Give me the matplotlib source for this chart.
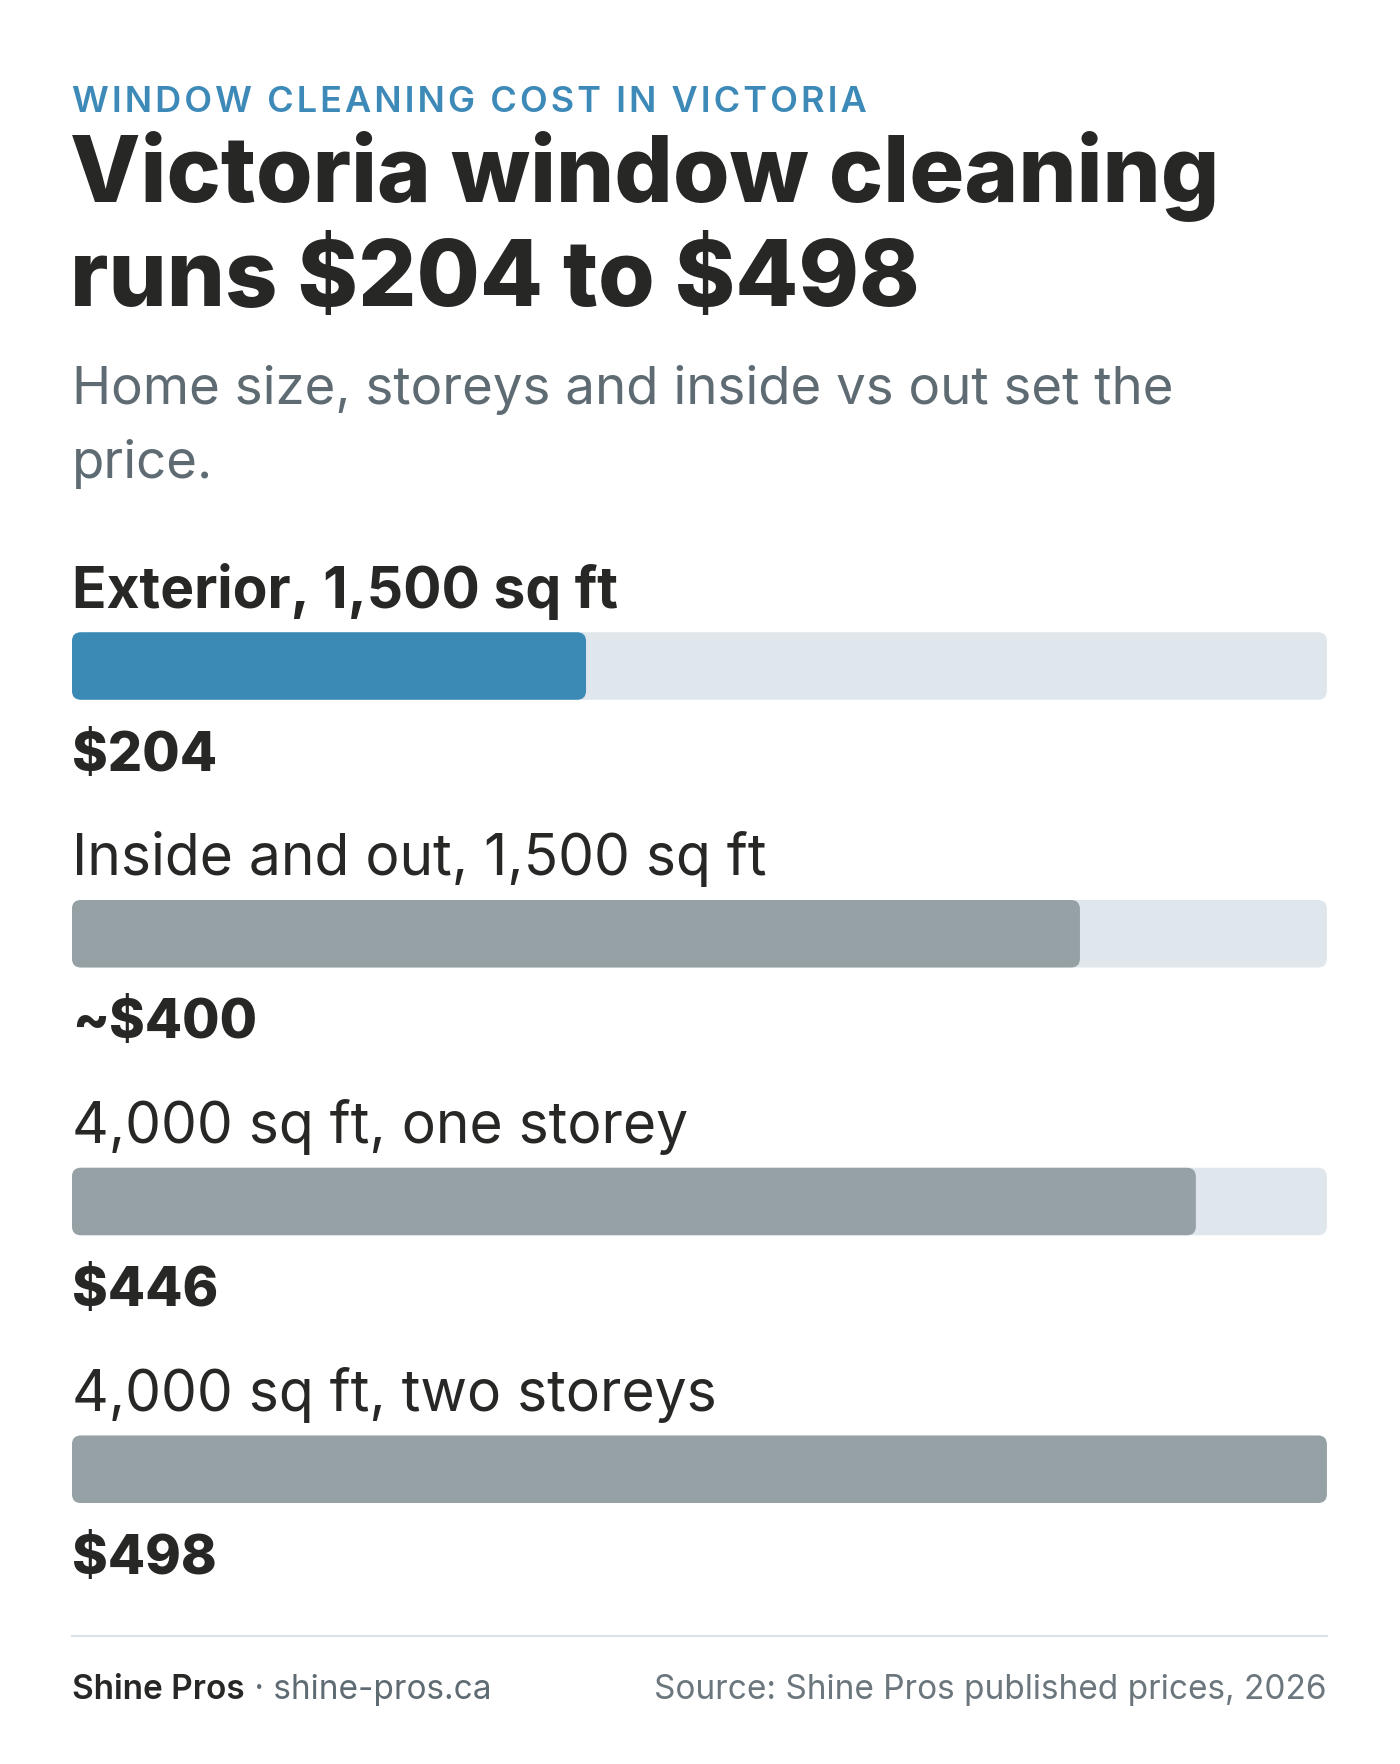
import matplotlib
matplotlib.use("Agg")
import matplotlib.pyplot as plt
from matplotlib.patches import FancyBboxPatch

labels = ["Exterior, 1,500 sq ft", "Inside and out, 1,500 sq ft", "4,000 sq ft, one storey", "4,000 sq ft, two storeys"]
values = [204, 400, 446, 498]
value_labels = ["\\$204", "~\\$400", "\\$446", "\\$498"]
highlight = [True, False, False, False]
max_val = 498

W, H = 1245, 1568
fig = plt.figure(figsize=(14, 17.64), dpi=100)
fig.patch.set_facecolor("white")
F = ["Inter", "DejaVu Sans"]
dark = "#272725"

def fx(x): return x / W
def fy(y): return 1 - y / H

kick = "\u200a".join("WINDOW CLEANING COST IN VICTORIA")
fig.text(fx(64), fy(100), kick, family=F, weight="semibold",
         size=26, color="#3d8ab8", va="baseline")
fig.text(fx(62), fy(180), "Victoria window cleaning", family=F, weight="heavy", size=66, color=dark, va="baseline")
fig.text(fx(62), fy(272), "runs \\$204 to \\$498", family=F, weight="heavy", size=66, color=dark, va="baseline")
fig.text(fx(64), fy(359), "Home size, storeys and inside vs out set the", family=F, size=38, color="#5f6b73", va="baseline")
fig.text(fx(64), fy(425), "price.", family=F, size=38, color="#5f6b73", va="baseline")

ax = fig.add_axes([fx(64), fy(1336), fx(1180) - fx(64), (1336 - 562) / H])
ax.set_xlim(0, max_val)
ax.set_ylim(1336, 562)
ax.axis("off")
tops = [562, 800, 1038, 1276]
bh = 60
asp = 1 / (max_val / 1116)
r = 8 * max_val / 1116
for i, (lab, v, vl, hl) in enumerate(zip(labels, values, value_labels, highlight)):
    t = tops[i]
    ax.add_patch(FancyBboxPatch((0, t), max_val, bh, boxstyle=f"round,pad=0,rounding_size={r}",
                                mutation_aspect=asp, fc="#dfe6ec", ec="none"))
    ax.add_patch(FancyBboxPatch((0, t), v, bh, boxstyle=f"round,pad=0,rounding_size={r}",
                                mutation_aspect=asp, fc="#3a8ab5" if hl else "#96a1a6", ec="none"))
    fig.text(fx(64), fy(t - 22), lab, family=F, weight="bold" if hl else "normal", size=41, color=dark, va="baseline")
    fig.text(fx(64), fy(t + bh + 63), vl, family=F, weight="heavy", size=39, color=dark, va="baseline")

fig.add_artist(plt.Line2D([fx(64), fx(1180)], [fy(1454), fy(1454)], color="#dde2e6", lw=1.5))
t1 = fig.text(fx(64), fy(1510), "Shine Pros", family=F, weight="semibold", size=24, color=dark, va="baseline")
fig.canvas.draw()
bb = t1.get_window_extent()
fig.text(bb.x1 / fig.bbox.width, fy(1510), " · shine-pros.ca", family=F, size=24, color="#5f6b73", va="baseline")
fig.text(fx(1180), fy(1510), "Source: Shine Pros published prices, 2026", family=F, size=24, color="#6b767d",
         va="baseline", ha="right")

fig.savefig("out.png", dpi=100)
